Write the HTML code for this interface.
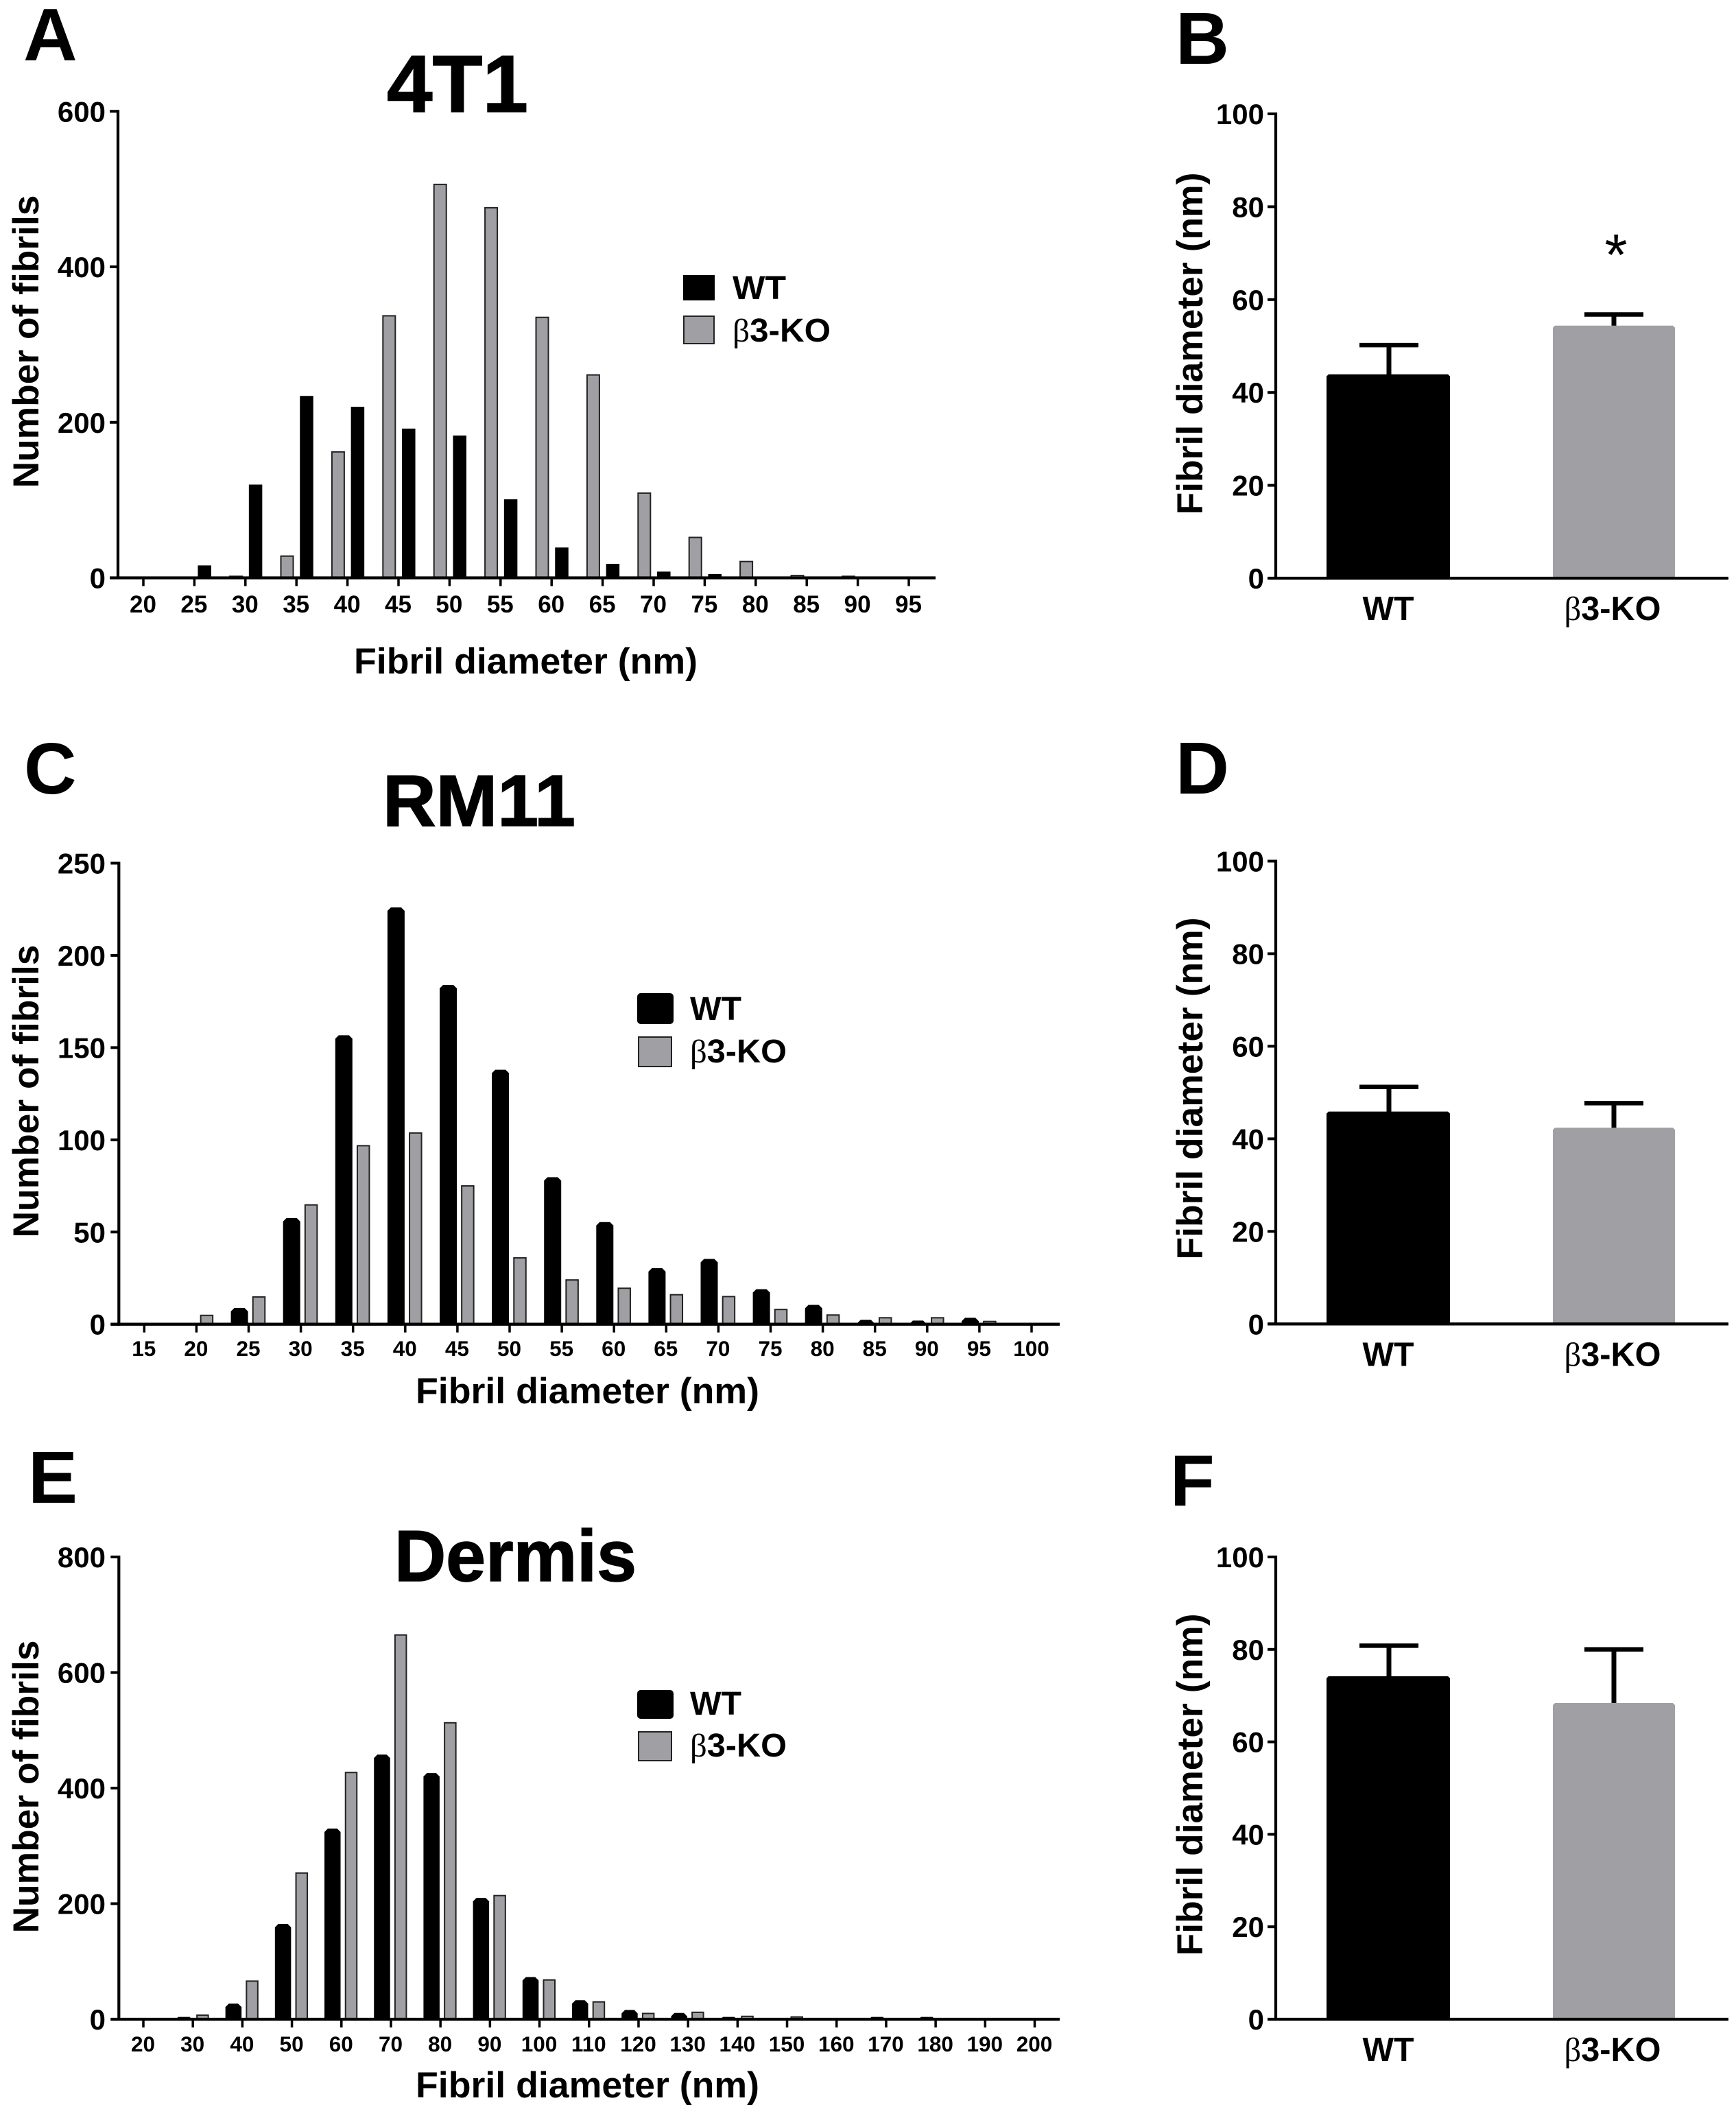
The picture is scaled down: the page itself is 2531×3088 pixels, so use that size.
<!DOCTYPE html>
<html lang="en">
<head>
<meta charset="utf-8">
<title>Fibril diameter distributions</title>
<style>
html,body{margin:0;padding:0;background:#fff;}
svg{display:block;}
text{font-family:"Liberation Sans",sans-serif;font-weight:bold;fill:#000;}
.beta{font-family:"Liberation Serif",serif;font-weight:normal;}
.heavy{stroke:#000;stroke-width:1.5px;}
</style>
</head>
<body>
<svg id="figure" xmlns="http://www.w3.org/2000/svg" width="2531" height="3088" viewBox="0 0 2531 3088">
  <rect x="0" y="0" width="2531" height="3088" fill="#fff"/>

  <text x="34" y="88" font-size="109">A</text>
  <text x="1714" y="93" font-size="108">B</text>
  <text x="35" y="1157" font-size="106">C</text>
  <text x="1714" y="1157" font-size="108">D</text>
  <text x="41" y="2191" font-size="108">E</text>
  <text x="1706" y="2195" font-size="106">F</text>

  <text class="heavy" x="564" y="163" font-size="118" textLength="206" lengthAdjust="spacingAndGlyphs">4T1</text>
  <text class="heavy" x="558" y="1204" font-size="106" textLength="281" lengthAdjust="spacingAndGlyphs">RM11</text>
  <text class="heavy" x="575" y="2305" font-size="106" textLength="353" lengthAdjust="spacingAndGlyphs">Dermis</text>

  <g id="chart-a"></g>
  <g id="chart-b"></g>
  <g id="chart-c"></g>
  <g id="chart-d"></g>
  <g id="chart-e"></g>
  <g id="chart-f"></g>

  <text transform="translate(56,498) rotate(-90)" text-anchor="middle" font-size="53" textLength="427" lengthAdjust="spacingAndGlyphs">Number of fibrils</text>
  <text x="516" y="982" font-size="53" textLength="501" lengthAdjust="spacingAndGlyphs">Fibril diameter (nm)</text>
  <text transform="translate(56,1591) rotate(-90)" text-anchor="middle" font-size="53" textLength="427" lengthAdjust="spacingAndGlyphs">Number of fibrils</text>
  <text x="606" y="2046" font-size="53" textLength="501" lengthAdjust="spacingAndGlyphs">Fibril diameter (nm)</text>
  <text transform="translate(56,2605) rotate(-90)" text-anchor="middle" font-size="53" textLength="427" lengthAdjust="spacingAndGlyphs">Number of fibrils</text>
  <text x="606" y="3058" font-size="53" textLength="501" lengthAdjust="spacingAndGlyphs">Fibril diameter (nm)</text>

  <text transform="translate(1753,501) rotate(-90)" text-anchor="middle" font-size="53" textLength="499" lengthAdjust="spacingAndGlyphs">Fibril diameter (nm)</text>
  <text transform="translate(1753,1587) rotate(-90)" text-anchor="middle" font-size="53" textLength="499" lengthAdjust="spacingAndGlyphs">Fibril diameter (nm)</text>
  <text transform="translate(1753,2602) rotate(-90)" text-anchor="middle" font-size="53" textLength="499" lengthAdjust="spacingAndGlyphs">Fibril diameter (nm)</text>

  <g transform="translate(-3,-1)">
    <rect x="999" y="402" width="46" height="37" fill="#000"/>
    <text x="1071" y="437" font-size="48" textLength="78" lengthAdjust="spacingAndGlyphs">WT</text>
    <rect x="1000" y="462" width="44" height="40" fill="#a0a0a4" stroke="#222" stroke-width="2"/>
    <text x="1071" y="499" font-size="48" textLength="143" lengthAdjust="spacingAndGlyphs"><tspan class="beta">β</tspan>3-KO</text>
  </g>
  <g transform="translate(-3,-1)">
    <rect x="932" y="1449" width="53" height="45" rx="5" fill="#000"/>
    <text x="1009" y="1488" font-size="48" textLength="75" lengthAdjust="spacingAndGlyphs">WT</text>
    <rect x="934" y="1513" width="48" height="43" fill="#a0a0a4" stroke="#222" stroke-width="2"/>
    <text x="1009" y="1550" font-size="48" textLength="141" lengthAdjust="spacingAndGlyphs"><tspan class="beta">β</tspan>3-KO</text>
  </g>
  <g transform="translate(-3,0)">
    <rect x="932" y="2464" width="53" height="42" rx="5" fill="#000"/>
    <text x="1009" y="2500" font-size="48" textLength="75" lengthAdjust="spacingAndGlyphs">WT</text>
    <rect x="934" y="2525" width="48" height="42" fill="#a0a0a4" stroke="#222" stroke-width="2"/>
    <text x="1009" y="2561" font-size="48" textLength="141" lengthAdjust="spacingAndGlyphs"><tspan class="beta">β</tspan>3-KO</text>
  </g>

  <text x="2356" y="401" text-anchor="middle" font-size="85" style="font-weight:normal">*</text>
</svg>

<script>
// Panel A (4T1) histogram data
const catsA = [20,25,30,35,40,45,50,55,60,65,70,75,80,85,90,95];
const wtA = [0,16,120,234,220,192,183,101,39,18,8,5,1.5,0,0,0];
const koA = [0,0,2,28,162,337,506,476,335,261,109,52,21,3,2,0];
const yTicksA = [0,200,400,600];

// Panel C (RM11) histogram data
const catsC = [15,20,25,30,35,40,45,50,55,60,65,70,75,80,85,90,95,100];
const wtC = [0,0,8.8,57.6,156.7,226,184,138,79.7,55.4,30.4,35.4,19,10.5,2.4,2,3.5,0];
const koC = [0,4.8,14.8,64.7,96.8,103.7,75,36,24,19.5,16,15,8,5,3.5,3.5,1.5,0];
const yTicksC = [0,50,100,150,200,250];

// Panel E (Dermis) histogram data
const catsE = [20,30,40,50,60,70,80,90,100,110,120,130,140,150,160,170,180,190,200];
const wtE = [0,4,27,165,330,458,426,210,73,33,16,11,4,0,0,4,4,0,0];
const koE = [0,7,66,253,427,665,513,214,68,30,10,12,5,4,0,0,0,0,0];
const yTicksE = [0,200,400,600,800];

// Mean-diameter bar chart data
const groups = ['WT','3-KO'];
const meanTicks = [0,20,40,60,80,100];
const meansB = [43.9,54.4];
const errTopB = [50.2,56.8];
const meansD = [45.9,42.4];
const errTopD = [51.2,47.7];
const meansF = [74.2,68.4];
const errTopF = [80.8,80];

const NS = 'http://www.w3.org/2000/svg';
function svgEl(parent, tag, attrs) {
  const el = document.createElementNS(NS, tag);
  for (const k in attrs) el.setAttribute(k, attrs[k]);
  parent.appendChild(el);
  return el;
}
function scaleLinear(d0, d1, r0, r1) {
  return function (v) { return r0 + (v - d0) * (r1 - r0) / (d1 - d0); };
}
function chamferPath(x, y, w, base, r) {
  const h = Math.min(r, (base - y));
  return 'M' + x + ' ' + base + 'V' + (y + h) + 'L' + (x + h) + ' ' + y +
         'H' + (x + w - h) + 'L' + (x + w) + ' ' + (y + h) + 'V' + base + 'Z';
}
function drawAxes(g, o, yTicks, yOf) {
  const yAxis = svgEl(g, 'line', {x1:o.axisX, x2:o.axisX, y1:yOf(yTicks[yTicks.length-1])-2, y2:o.y0+2, stroke:'#000','stroke-width':4.2});
  
  
  const xAxis = svgEl(g, 'line', {x1:o.axisX-o.tickLen, x2:o.axisEnd, y1:o.y0, y2:o.y0, stroke:'#000','stroke-width':4.3});
  
  
  yTicks.forEach(function (t) {
    const tick = svgEl(g, 'line', {x1:o.axisX-o.tickLen, x2:o.axisX, y1:yOf(t), y2:yOf(t), stroke:'#000','stroke-width':4});
    
    
    const label = svgEl(g, 'text', {x:o.yLabelX, y:yOf(t)+o.yLabelDy, 'text-anchor':'end', 'font-size':o.yFont});
    
    
    label.textContent = t;
  });
}
function drawHistogram(id, cats, wt, ko, yTicks, o) {
  const g = document.getElementById(id);
  const xOf = scaleLinear(cats[0], cats[cats.length-1], o.xFirst, o.xLast);
  const yOf = scaleLinear(0, yTicks[yTicks.length-1], o.y0, o.yTop);
  cats.forEach(function (c, i) {
    const cx = xOf(c);
    if (wt[i] > 0) {
      const left = cx + o.wtOff - o.wtW / 2;
      const wb = svgEl(g, 'path', {d:chamferPath(left, yOf(wt[i]), o.wtW, o.y0, o.chamfer), fill:'#000'});
      
      
    }
    if (ko[i] > 0) {
      const left = cx + o.koOff - o.koW / 2;
      const kb = svgEl(g, 'rect', {x:left, y:yOf(ko[i]), width:o.koW, height:o.y0 - yOf(ko[i]), fill:'#a0a0a4', stroke:'#222', 'stroke-width':2});
      
      
    }
    const tick = svgEl(g, 'line', {x1:cx, x2:cx, y1:o.y0, y2:o.y0+o.xTickLen, stroke:'#000','stroke-width':3.5});
    
    
    const label = svgEl(g, 'text', {x:cx-0.5, y:o.xLabelY, 'text-anchor':'middle', 'font-size':o.xFont});
    
    
    label.textContent = c;
  });
  drawAxes(g, o, yTicks, yOf);
}
function drawMeans(id, means, errTop, o) {
  const g = document.getElementById(id);
  const yOf = scaleLinear(0, 100, o.y0, o.yTop);
  const fills = ['#000', '#a0a0a4'];
  const lefts = [1934, 2264];
  const widths = [180, 178];
  const centers = [2025, 2353];
  means.forEach(function (m, i) {
    const errLine = svgEl(g, 'line', {x1:centers[i], x2:centers[i], y1:yOf(errTop[i]), y2:yOf(m)+2, stroke:'#000','stroke-width':7});
    
    
    const cap = svgEl(g, 'line', {x1:centers[i]-43, x2:centers[i]+43, y1:yOf(errTop[i]), y2:yOf(errTop[i]), stroke:'#000','stroke-width':6.5});
    
    
    const bar = svgEl(g, 'path', {d:chamferPath(lefts[i], yOf(m), widths[i], o.y0, 3), fill:fills[i]});
    
    
    const label = svgEl(g, 'text', {x:centers[i] + (i === 0 ? -1 : -2), y:o.y0+61, 'text-anchor':'middle', 'font-size':49, textLength:i === 0 ? 75 : 141, lengthAdjust:'spacingAndGlyphs'});
    
    
    if (i === 1) {
      const beta = svgEl(label, 'tspan', {class:'beta'});
      beta.textContent = '\u03b2';
      label.appendChild(document.createTextNode(groups[i]));
    } else {
      label.textContent = groups[i];
    }
  });
  drawAxes(g, o, meanTicks, yOf);
}

drawHistogram('chart-a', catsA, wtA, koA, yTicksA, {
  xFirst:209, xLast:1325, y0:842.5, yTop:162.3, axisX:172, axisEnd:1364,
  wtOff:14.8, koOff:-13.7, wtW:19.5, koW:18, chamfer:0, tickLen:12, xTickLen:12,
  xLabelY:893, xFont:35, yLabelX:154, yLabelDy:15, yFont:42
});
drawHistogram('chart-c', catsC, wtC, koC, yTicksC, {
  xFirst:210.3, xLast:1504, y0:1930.7, yTop:1258.5, axisX:173.3, axisEnd:1545,
  wtOff:-13.4, koOff:15, wtW:25, koW:17.5, chamfer:5, tickLen:12, xTickLen:12,
  xLabelY:1977, xFont:31.5, yLabelX:154, yLabelDy:15, yFont:42
});
drawHistogram('chart-e', catsE, wtE, koE, yTicksE, {
  xFirst:209, xLast:1508.5, y0:2944, yTop:2270, axisX:173.3, axisEnd:1545,
  wtOff:-13, koOff:14.2, wtW:23.5, koW:16.5, chamfer:5, tickLen:12, xTickLen:12,
  xLabelY:2991, xFont:31.5, yLabelX:154, yLabelDy:15, yFont:42
});
drawMeans('chart-b', meansB, errTopB, {
  y0:843, yTop:166, axisX:1860, axisEnd:2520, tickLen:12, yLabelX:1843, yLabelDy:15, yFont:42
});
drawMeans('chart-d', meansD, errTopD, {
  y0:1930.3, yTop:1255.5, axisX:1860, axisEnd:2520, tickLen:12, yLabelX:1843, yLabelDy:15, yFont:42
});
drawMeans('chart-f', meansF, errTopF, {
  y0:2944, yTop:2270, axisX:1860, axisEnd:2520, tickLen:12, yLabelX:1843, yLabelDy:15, yFont:42
});
</script>
</body>
</html>
